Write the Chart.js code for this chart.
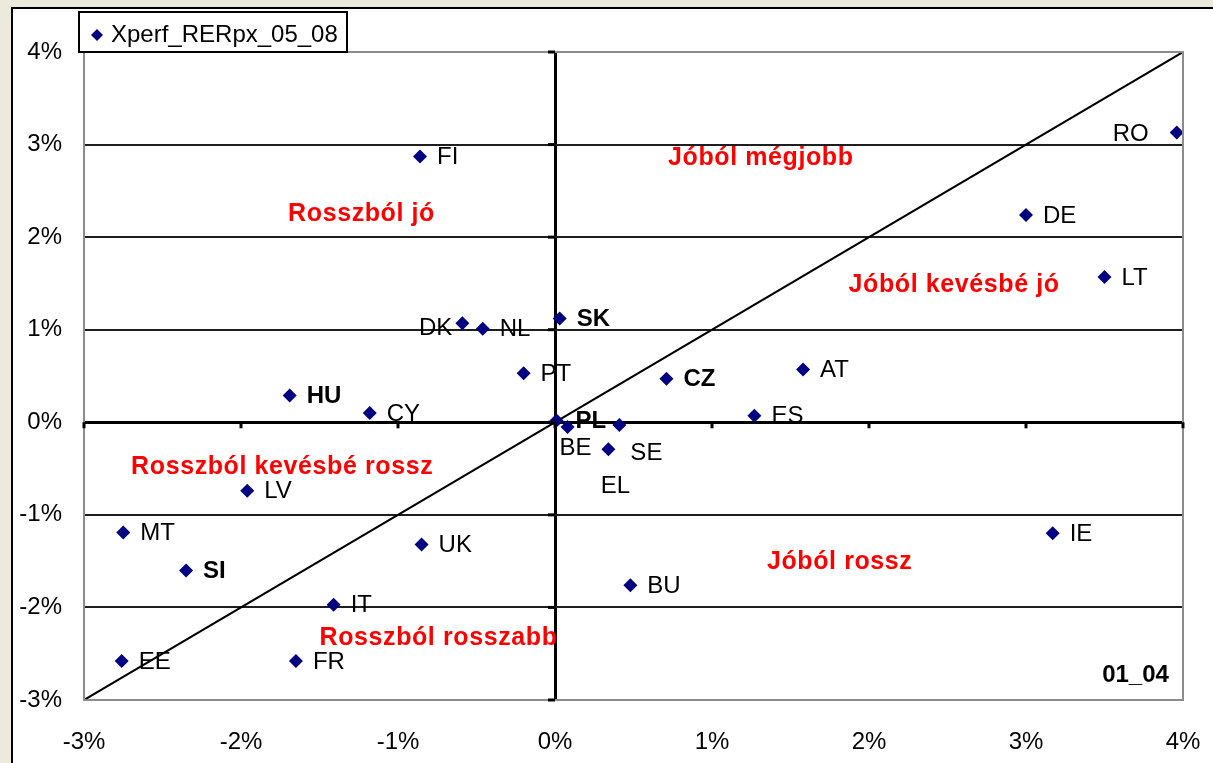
<!DOCTYPE html>
<html>
<head>
<meta charset="utf-8">
<script src="https://cdn.jsdelivr.net/npm/chart.js@4"></script>
<style>
  html, body { margin: 0; padding: 0; background: #ebeadc; }
  canvas { display: block; }
</style>
</head>
<body>
<canvas id="chart" width="1213" height="763"></canvas>
<script>
// performance 2001-2004 (x) vs 2005-2008 (y), in percent
const countries = ["RO", "FI", "DE", "LT", "DK", "NL", "SK", "PT", "CZ", "PL", "BE", "SE", "EL",
  "ES", "AT", "HU", "CY", "LV", "MT", "SI", "IT", "EE", "FR", "UK", "BU", "IE"];
const perf0104 = [3.96, -0.86, 3.00, 3.50, -0.59, -0.46, 0.03, -0.20, 0.71, 0.01, 0.08, 0.41, 0.34,
  1.27, 1.58, -1.69, -1.18, -1.96, -2.75, -2.35, -1.41, -2.76, -1.65, -0.85, 0.48, 3.17];
const perf0508 = [3.13, 2.87, 2.24, 1.57, 1.07, 1.01, 1.12, 0.53, 0.47, 0.02, -0.05, -0.03, -0.29,
  0.07, 0.57, 0.29, 0.10, -0.74, -1.19, -1.60, -1.97, -2.58, -2.58, -1.32, -1.76, -1.20];
const boldCountries = ["SK", "CZ", "PL", "HU", "SI"];
const seriesName = "Xperf_RERpx_05_08";
const periodLabel = "01_04";
const quadrantNames = ["Jóból mégjobb", "Rosszból jó", "Jóból kevésbé jó",
  "Rosszból kevésbé rossz", "Rosszból rosszabb", "Jóból rossz"];
const axisMin = -3;
const axisMax = 4;

const FONT = '"Liberation Sans", Arial, sans-serif';

// where each quadrant caption sits (data units, left edge / middle)
const quadrantSpots = [[0.72, 2.85], [-1.70, 2.25], [1.87, 1.48], [-2.70, -0.48], [-1.50, -2.33], [1.35, -1.51]];

// label nudges for points whose label is not just right of the marker
const labelNudge = {
  RO: [-28, 2, "right"],
  DK: [-10, 5, "right"],
  PL: [19, 1, "left"],
  BE: [8, 21, "center"],
  SE: [11, 28, "left"],
  EL: [7, 37, "center"],
};

const points = countries.map((c, i) => ({ x: perf0104[i], y: perf0508[i], name: c }));

const decorPlugin = {
  id: "decor",
  beforeDraw(chart) {
    const ctx = chart.ctx;
    ctx.save();
    ctx.fillStyle = "#ebeadc";
    ctx.fillRect(0, 0, chart.width, chart.height);
    ctx.fillStyle = "#ffffff";
    ctx.fillRect(11, 7, chart.width, chart.height);
    ctx.strokeStyle = "#000";
    ctx.lineWidth = 2;
    ctx.beginPath();
    ctx.moveTo(12, chart.height);
    ctx.lineTo(12, 8);
    ctx.lineTo(chart.width, 8);
    ctx.stroke();
    ctx.restore();
  },
  afterDatasetsDraw(chart) {
    const ctx = chart.ctx;
    const xs = chart.scales.x;
    const ys = chart.scales.y;
    const area = chart.chartArea;
    ctx.save();

    // plot border
    ctx.strokeStyle = "#8c8c8c";
    ctx.lineWidth = 2;
    ctx.strokeRect(area.left, area.top, area.right - area.left, area.bottom - area.top);

    // small tick marks on the zero axes
    ctx.strokeStyle = "#000";
    ctx.lineWidth = 3;
    const x0 = xs.getPixelForValue(0);
    const y0 = ys.getPixelForValue(0);
    for (let v = axisMin; v <= axisMax; v++) {
      const px = xs.getPixelForValue(v);
      ctx.beginPath();
      ctx.moveTo(px, y0);
      ctx.lineTo(px, y0 + 6);
      ctx.stroke();
      const py = ys.getPixelForValue(v);
      ctx.beginPath();
      ctx.moveTo(x0, py);
      ctx.lineTo(x0 - 7, py);
      ctx.stroke();
    }

    // country labels
    ctx.fillStyle = "#000";
    ctx.textBaseline = "middle";
    points.forEach((p) => {
      const px = xs.getPixelForValue(p.x);
      const py = ys.getPixelForValue(p.y);
      const n = labelNudge[p.name] || [17, 1, "left"];
      ctx.font = (boldCountries.includes(p.name) ? "bold " : "") + "24px " + FONT;
      ctx.textAlign = n[2];
      ctx.fillText(p.name, px + n[0], py + n[1]);
    });

    // quadrant captions
    ctx.fillStyle = "#ff0000";
    ctx.font = "bold 25px " + FONT;
    ctx.letterSpacing = "0.6px";
    ctx.textAlign = "left";
    quadrantNames.forEach((t, i) => {
      const s = quadrantSpots[i];
      ctx.fillText(t, xs.getPixelForValue(s[0]), ys.getPixelForValue(s[1]));
    });
    ctx.letterSpacing = "0px";

    // period caption
    ctx.fillStyle = "#000";
    ctx.font = "bold 24px " + FONT;
    ctx.textAlign = "right";
    ctx.fillText(periodLabel, xs.getPixelForValue(3.91), ys.getPixelForValue(-2.73));

    // legend box
    ctx.fillStyle = "#fff";
    ctx.fillRect(79, 12, 268, 40);
    ctx.strokeStyle = "#000";
    ctx.lineWidth = 2;
    ctx.strokeRect(79, 12, 268, 40);
    ctx.fillStyle = "#000080";
    ctx.beginPath();
    ctx.moveTo(97, 29);
    ctx.lineTo(103, 35);
    ctx.lineTo(97, 41);
    ctx.lineTo(91, 35);
    ctx.closePath();
    ctx.fill();
    ctx.fillStyle = "#000";
    ctx.font = "24px " + FONT;
    ctx.textAlign = "left";
    ctx.fillText(seriesName, 111, 35);

    ctx.restore();
  },
};

new Chart(document.getElementById("chart"), {
  type: "scatter",
  data: {
    datasets: [
      {
        label: seriesName,
        data: points,
        pointStyle: "rectRot",
        pointRadius: 7,
        pointBackgroundColor: "#000080",
        pointBorderWidth: 0,
        order: 0,
      },
      {
        type: "line",
        label: "diag",
        data: [{ x: axisMin, y: axisMin }, { x: axisMax, y: axisMax }],
        borderColor: "#000",
        borderWidth: 2,
        pointRadius: 0,
        order: 1,
      },
    ],
  },
  options: {
    responsive: false,
    animation: false,
    layout: { padding: { left: 13, top: 52, right: 30, bottom: 0 } },
    plugins: {
      legend: { display: false },
      tooltip: { enabled: false },
    },
    scales: {
      x: {
        type: "linear",
        min: axisMin,
        max: axisMax,
        afterFit: (s) => {
          s.height = 63;
          s.paddingLeft = 0;
          s.paddingRight = 0;
        },
        ticks: {
          stepSize: 1,
          padding: 28,
          color: "#000",
          font: { family: FONT, size: 24 },
          callback: (v) => v + "%",
        },
        grid: {
          drawTicks: false,
          color: (c) => (c.tick && c.tick.value === 0 ? "#000" : "rgba(0,0,0,0)"),
          lineWidth: (c) => (c.tick && c.tick.value === 0 ? 3 : 0),
        },
        border: { display: false },
      },
      y: {
        type: "linear",
        min: axisMin,
        max: axisMax,
        afterFit: (s) => {
          s.width = 71;
          s.paddingTop = 0;
          s.paddingBottom = 0;
        },
        ticks: {
          stepSize: 1,
          padding: 22,
          color: "#000",
          font: { family: FONT, size: 24 },
          callback: (v) => v + "%",
        },
        grid: {
          drawTicks: false,
          color: (c) => {
            const v = c.tick ? c.tick.value : null;
            if (v === axisMin || v === axisMax) return "rgba(0,0,0,0)";
            return v === 0 ? "#000" : "#1e1e1e";
          },
          lineWidth: (c) => (c.tick && c.tick.value === 0 ? 3 : 2),
        },
        border: { display: false },
      },
    },
  },
  plugins: [decorPlugin],
});
</script>
</body>
</html>
